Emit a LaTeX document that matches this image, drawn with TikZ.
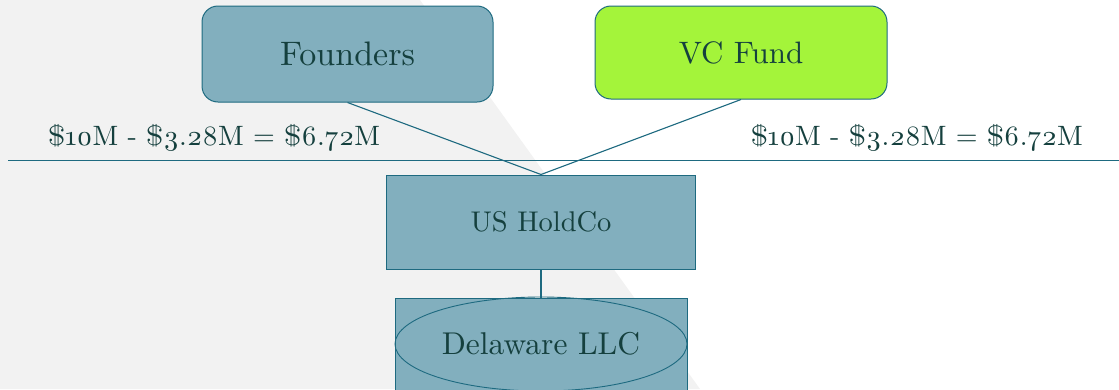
\documentclass[tikz,border=0pt]{standalone}
\usepackage{fontspec}
\setmainfont{lmroman10-regular.otf}[Numbers=OldStyle]
\usetikzlibrary{shapes.geometric}
\definecolor{boxfill}{HTML}{82AFBE}
\definecolor{fundfill}{HTML}{A4F43A}
\definecolor{edgeteal}{HTML}{1E6A80}
\definecolor{inktext}{HTML}{15403E}
\definecolor{panelgray}{HTML}{F2F2F2}
\tikzset{
  entity/.style={draw=edgeteal, line width=1pt, fill=boxfill, inner sep=0pt,
    text=inktext, font=\fontsize{31}{36}\selectfont},
  roundbox/.style={entity, rounded corners=16pt},
  link/.style={draw=edgeteal, line width=1.1pt},
  amount/.style={text=inktext, inner sep=0pt, font=\fontsize{28}{33}\selectfont}
}
\begin{document}
\begin{tikzpicture}[x=1pt, y=-1pt]
  \useasboundingbox (0,0) rectangle (1119,389);
  \clip (0,0) rectangle (1119,389);
  % background panel with diagonal edge
  \fill[panelgray] (0,0) -- (420,0) -- (700,389) -- (0,389) -- cycle;

  % owners
  \node[roundbox, minimum width=291pt, minimum height=96pt,
        font=\fontsize{34}{40}\selectfont] (founders) at (347.5,54) {Founders};
  \node[roundbox, fill=fundfill, minimum width=292pt, minimum height=93pt] (fund) at (741,52.5) {VC Fund};

  % holding company and subsidiary
  \node[entity, minimum width=309pt, minimum height=94pt,
        font=\fontsize{28.5}{34}\selectfont] (holdco) at (541,222) {US HoldCo};
  \node[entity, minimum width=292pt, minimum height=130pt] (llcbox) at (541,363) {};
  \node[ellipse, draw=edgeteal, line width=0.9pt, inner sep=0pt, text=inktext,
        minimum width=292pt, minimum height=94pt,
        font=\fontsize{31.5}{36}\selectfont] (llc) at (541,344) {Delaware LLC};

  % ownership split line
  \coordinate (splitL) at (8,160.5);
  \coordinate (splitR) at (1119,160.5);
  \draw[link] (splitL) -- (splitR);

  % amounts
  \node[amount, anchor=base west] (amtL) at (48,145) {\$10M - \$3.28M = \$6.72M};
  \node[amount, anchor=base east] (amtR) at (1083,145) {\$10M - \$3.28M = \$6.72M};

  % connectors
  \draw[link] (founders.south) -- (holdco.north);
  \draw[link] (fund.south) -- (holdco.north);
  \draw[link] (holdco.south) -- (llcbox.north);
\end{tikzpicture}
\end{document}
